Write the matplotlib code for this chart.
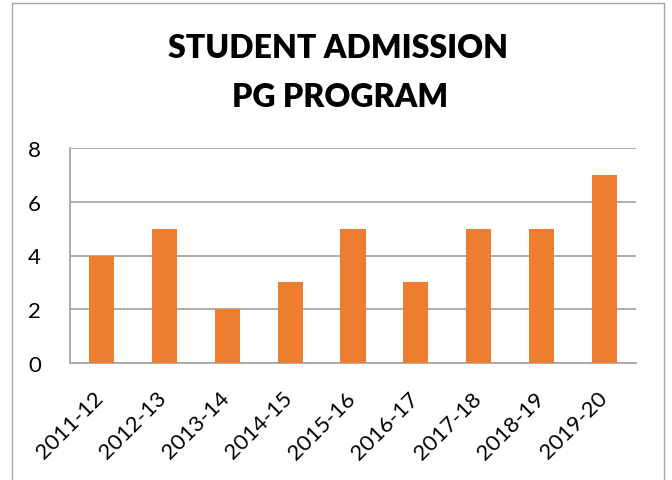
import matplotlib
matplotlib.use("Agg")
import matplotlib.pyplot as plt
from matplotlib.patches import Rectangle
from matplotlib.transforms import ScaledTranslation

categories = ["2011-12", "2012-13", "2013-14", "2014-15", "2015-16",
              "2016-17", "2017-18", "2018-19", "2019-20"]
values = [4, 5, 2, 3, 5, 3, 5, 5, 7]
yticks = [0, 2, 4, 6, 8]
title_lines = ["STUDENT ADMISSION", "PG PROGRAM"]

plt.rcParams['font.family'] = ['Lato', 'DejaVu Sans']

W, H, DPI = 672, 481, 100
fig = plt.figure(figsize=(W / DPI, H / DPI), dpi=DPI)
fig.patch.set_facecolor('white')

# outer chart frame
fig.patches.append(Rectangle((12 / W, -0.1), (664 - 12) / W, 1.1 - 4 / H,
                             transform=fig.transFigure, fill=False,
                             edgecolor='#a6a6a6', linewidth=1.0))

ax = fig.add_axes([70 / W, 1 - 364 / H, (636 - 70) / W, (364 - 149) / H])
x = list(range(len(categories)))
ax.bar(x, values, width=0.4, color='#ED7D31', zorder=3)
ax.set_xlim(-0.5, len(categories) - 0.5)
ax.set_ylim(0, 8)
ax.set_yticks(yticks)
ax.set_yticklabels([str(v) for v in yticks], fontsize=16)
ax.yaxis.grid(True, color='#a6a6a6', linewidth=1.3, zorder=0)
for s in ['top', 'right']:
    ax.spines[s].set_visible(False)
for s in ['left', 'bottom']:
    ax.spines[s].set_color('#a6a6a6')
    ax.spines[s].set_linewidth(1.3)
ax.tick_params(axis='y', length=0, pad=21)
ax.tick_params(axis='x', length=0, pad=0)
ax.set_xticks(x)
ax.set_xticklabels(categories, fontsize=16, rotation=45,
                   ha='center', va='center', rotation_mode='anchor')
off = ScaledTranslation(-31 / DPI, -62 / DPI, fig.dpi_scale_trans)
for lab in ax.get_xticklabels():
    lab.set_transform(lab.get_transform() + off)

fig.text(338 / W, 1 - 58 / H, title_lines[0], ha='center', va='baseline',
         fontsize=23, fontweight='heavy')
fig.text(340 / W, 1 - 107 / H, title_lines[1], ha='center', va='baseline',
         fontsize=23, fontweight='heavy')

fig.savefig('out.png', dpi=DPI)
